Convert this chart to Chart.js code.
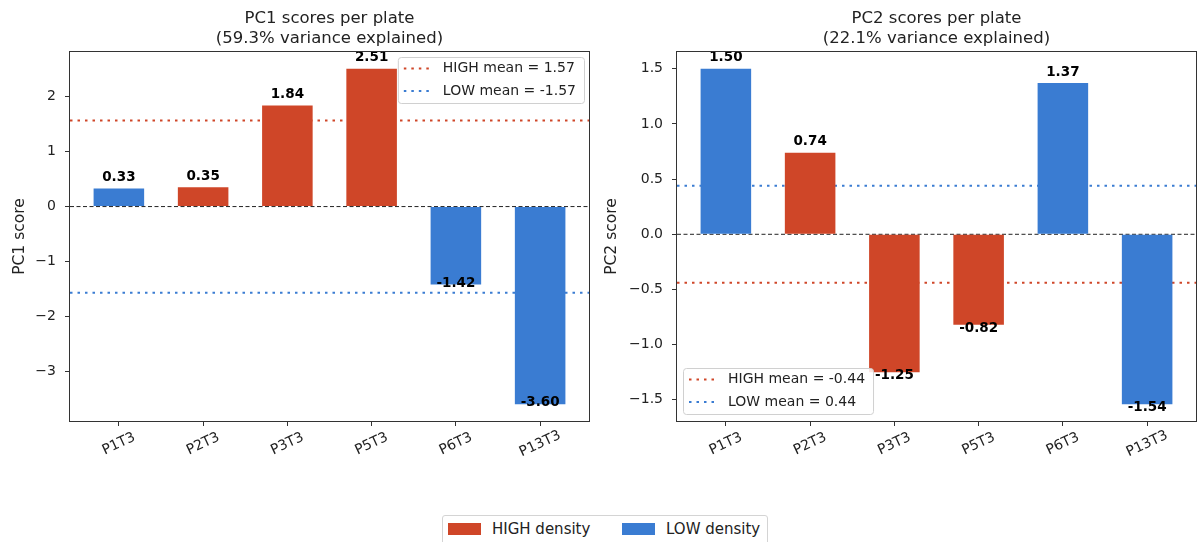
<!DOCTYPE html>
<html>
<head>
<meta charset="utf-8">
<title>PC scores per plate</title>
<script src="https://cdn.jsdelivr.net/npm/chart.js@4.4.1/dist/chart.umd.min.js"></script>
<style>
    body { margin: 0; background: #fff; font-family: 'DejaVu Sans', sans-serif; color: #222; }
    #wrapper { position: relative; width: 1197px; height: 542px; overflow: hidden; }
    .panel { position: absolute; top: 0; height: 490px; }
    #panel_pc1 { left: 0; width: 600px; }
    #panel_pc2 { left: 600px; width: 597px; }
    #fig_legend { position: absolute; left: 442px; top: 515px; width: 324px; height: 40px;
                  border: 1px solid #d4d4d4; border-radius: 3px; font-size: 15px; }
    #fig_legend .patch { position: absolute; top: 7px; width: 33px; height: 12px; }
    #fig_legend .label { position: absolute; top: 4px; line-height: 18px; white-space: nowrap; }
</style>
</head>
<body>
<div id="wrapper">
    <div class="panel" id="panel_pc1"><canvas id="chart_pc1" width="600" height="490"></canvas></div>
    <div class="panel" id="panel_pc2"><canvas id="chart_pc2" width="597" height="490"></canvas></div>
    <div id="fig_legend">
        <span class="patch" style="left:5px; background:#cf4628;"></span>
        <span class="label" style="left:49px;">HIGH density</span>
        <span class="patch" style="left:179px; background:#3a7cd2;"></span>
        <span class="label" style="left:223px;">LOW density</span>
    </div>
</div>

<script>
// Data
const plates = ['P1T3', 'P2T3', 'P3T3', 'P5T3', 'P6T3', 'P13T3'];
const groups = ['LOW', 'HIGH', 'HIGH', 'HIGH', 'LOW', 'LOW'];
const pc1Scores = [0.33, 0.35, 1.84, 2.51, -1.42, -3.60];
const pc2Scores = [1.50, 0.74, -1.25, -0.82, 1.37, -1.54];
// group means [HIGH, LOW]
const pc1Means = [1.57, -1.57];
const pc2Means = [-0.44, 0.44];
const pc1Ticks = [-3, -2, -1, 0, 1, 2];
const pc2Ticks = [-1.5, -1.0, -0.5, 0.0, 0.5, 1.0, 1.5];

const FONT = 'DejaVu Sans';
const colors = { HIGH: '#cf4628', LOW: '#3a7cd2' };
const barWidth = 0.6;

function fmtTick(v, digits){
    let s = Math.abs(v).toFixed(digits);
    return (v < 0 ? '\u2212' : '') + s;
}

// Titles, value labels, rotated x labels, frame and the small legend
const panelPlugin = {
    id: 'panel',
    afterDatasetsDraw(chart, args, opts){
        const ctx = chart.ctx;
        const area = chart.chartArea;
        const xs = chart.scales.x;
        const ys = chart.scales.y;
        ctx.save();
        ctx.font = 'bold 13.5px "' + FONT + '"';
        ctx.fillStyle = '#000';
        ctx.textAlign = 'center';
        ctx.textBaseline = 'middle';
        opts.values.forEach(function(v, i){
            let x = xs.getPixelForValue(i);
            let y = ys.getPixelForValue(v);
            ctx.fillText(v.toFixed(2), x, v >= 0 ? y - 11 : y + opts.negOffset);
        });
        ctx.strokeStyle = '#333';
        ctx.lineWidth = 1;
        ctx.strokeRect(Math.round(area.left) - 0.5, Math.round(area.top) - 0.5,
                       Math.round(area.right - area.left) + 1, Math.round(area.bottom - area.top) + 1);
        ctx.restore();
    },
    afterDraw(chart, args, opts){
        const ctx = chart.ctx;
        const area = chart.chartArea;
        const xs = chart.scales.x;
        ctx.save();

        // title
        ctx.fillStyle = '#222';
        ctx.textAlign = 'center';
        ctx.textBaseline = 'alphabetic';
        ctx.font = '16.5px "' + FONT + '"';
        let cx = (area.left + area.right) / 2;
        ctx.fillText(opts.title[0], cx, 23);
        ctx.fillText(opts.title[1], cx, 43);

        // x tick labels, rotated around their centre
        ctx.font = '14px "' + FONT + '"';
        ctx.textBaseline = 'middle';
        plates.forEach(function(p, i){
            ctx.save();
            ctx.translate(xs.getPixelForValue(i), area.bottom + 23);
            ctx.rotate(-25 * Math.PI / 180);
            ctx.fillText(p, 0, 0);
            ctx.restore();
        });

        // mean legend
        let rows = [
            { text: 'HIGH mean = ' + opts.means[0].toFixed(2), color: colors.HIGH },
            { text: 'LOW mean = ' + opts.means[1].toFixed(2), color: colors.LOW }
        ];
        let tw = Math.max.apply(null, rows.map(r => ctx.measureText(r.text).width));
        let w = 45 + tw + 8;
        let h = 46;
        let bx, by;
        if (opts.legendCorner == 'upper right'){
            bx = area.right - 5 - w;
            by = area.top + 5;
        }
        else{
            bx = area.left + 6;
            by = area.bottom - 7 - h;
        }
        ctx.beginPath();
        ctx.roundRect(bx + 0.5, by + 0.5, w, h, 3);
        ctx.fillStyle = 'rgba(255,255,255,0.85)';
        ctx.fill();
        ctx.strokeStyle = '#d0d0d0';
        ctx.lineWidth = 1;
        ctx.stroke();

        ctx.textAlign = 'left';
        rows.forEach(function(r, k){
            let ry = by + 11.5 + k * 22.5;
            ctx.beginPath();
            ctx.setLineDash([2.5, 5]);
            ctx.strokeStyle = r.color;
            ctx.lineWidth = 2;
            ctx.moveTo(bx + 6, ry);
            ctx.lineTo(bx + 34, ry);
            ctx.stroke();
            ctx.setLineDash([]);
            ctx.fillStyle = '#222';
            ctx.fillText(r.text, bx + 45, ry);
        });
        ctx.restore();
    }
};

function makeChart(canvasId, cfg){
    const values = cfg.values;
    const n = plates.length;

    // matplotlib style limits: 5% margin around the bars
    let span = (n - 1) + barWidth;
    let xMin = -barWidth / 2 - 0.05 * span;
    let xMax = (n - 1) + barWidth / 2 + 0.05 * span;
    let lo = Math.min(0, ...values);
    let hi = Math.max(0, ...values);
    let pad = 0.05 * (hi - lo);

    const data = {
        datasets: [{
            type: 'bar',
            data: values.map((v, i) => ({ x: i, y: v })),
            backgroundColor: groups.map(g => colors[g]),
            borderWidth: 0,
            barPercentage: barWidth,
            categoryPercentage: 1,
            order: 0
        }, {
            type: 'line',
            data: [{ x: xMin, y: cfg.means[0] }, { x: xMax, y: cfg.means[0] }],
            borderColor: colors.HIGH,
            borderWidth: 2,
            borderDash: [2.5, 5],
            pointRadius: 0,
            order: 2
        }, {
            type: 'line',
            data: [{ x: xMin, y: cfg.means[1] }, { x: xMax, y: cfg.means[1] }],
            borderColor: colors.LOW,
            borderWidth: 2,
            borderDash: [2.5, 5],
            pointRadius: 0,
            order: 2
        }, {
            type: 'line',
            data: [{ x: xMin, y: 0 }, { x: xMax, y: 0 }],
            borderColor: '#222',
            borderWidth: 1,
            borderDash: [4, 2.5],
            pointRadius: 0,
            order: 1
        }]
    };

    return new Chart(document.getElementById(canvasId), {
        type: 'bar',
        data: data,
        plugins: [panelPlugin],
        options: {
            responsive: false,
            animation: false,
            layout: { padding: { top: 52, left: 0, right: cfg.rightPad, bottom: 39 } },
            scales: {
                x: {
                    type: 'linear',
                    min: xMin,
                    max: xMax,
                    offset: false,
                    border: { display: false },
                    grid: { display: true, offset: false, drawOnChartArea: false, tickLength: 5, color: '#333' },
                    ticks: { display: false },
                    afterBuildTicks: function(s){ s.ticks = plates.map((p, i) => ({ value: i })); },
                    afterFit: function(s){ s.height = 30; }
                },
                y: {
                    type: 'linear',
                    min: lo - pad,
                    max: hi + pad,
                    border: { display: false },
                    grid: { display: true, drawOnChartArea: false, tickLength: 5, color: '#333' },
                    ticks: {
                        padding: 9,
                        color: '#222',
                        font: { family: FONT, size: 14 },
                        callback: v => fmtTick(v, cfg.digits)
                    },
                    title: {
                        display: true,
                        text: cfg.yTitle,
                        color: '#222',
                        font: { family: FONT, size: 15.5 },
                        padding: { top: cfg.titlePad, bottom: 0 }
                    },
                    afterBuildTicks: function(s){ s.ticks = cfg.ticks.map(v => ({ value: v })); },
                    afterFit: function(s){ s.width = cfg.axisWidth; }
                }
            },
            plugins: {
                legend: { display: false },
                tooltip: { enabled: false },
                panel: {
                    title: cfg.title,
                    values: values,
                    means: cfg.means,
                    negOffset: cfg.negOffset,
                    legendCorner: cfg.legendCorner
                }
            }
        }
    });
}

window.addEventListener('load', function(){
    makeChart('chart_pc1', {
        values: pc1Scores,
        means: pc1Means,
        ticks: pc1Ticks,
        digits: 0,
        yTitle: 'PC1 score',
        title: ['PC1 scores per plate', '(59.3% variance explained)'],
        axisWidth: 70,
        titlePad: 11,
        rightPad: 11,
        negOffset: -1.5,
        legendCorner: 'upper right'
    });

    makeChart('chart_pc2', {
        values: pc2Scores,
        means: pc2Means,
        ticks: pc2Ticks,
        digits: 1,
        yTitle: 'PC2 score',
        title: ['PC2 scores per plate', '(22.1% variance explained)'],
        axisWidth: 77,
        titlePad: 3,
        rightPad: 1,
        negOffset: 3.5,
        legendCorner: 'lower left'
    });
});
</script>
</body>
</html>
